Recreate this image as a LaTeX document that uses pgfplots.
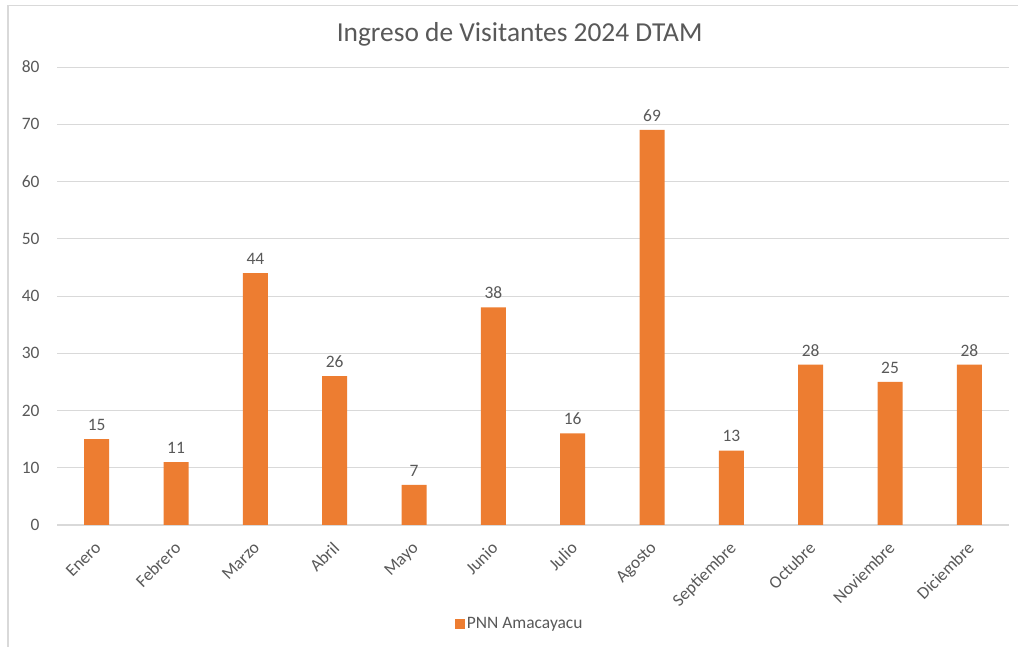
\documentclass[border=0pt]{standalone}
\usepackage{pgfplots}
\pgfplotsset{compat=1.18}
\usepackage{fontspec}
\setmainfont{Carlito}
\definecolor{barc}{HTML}{ED7D31}
\definecolor{txt}{HTML}{595959}
\definecolor{grd}{HTML}{D9D9D9}
\begin{document}
\begin{tikzpicture}[x=1bp,y=1bp]
\useasboundingbox (0,0) rectangle (1018,647);
\fill[white] (0,0) rectangle (1018,647);
\draw[grd, line width=1.2bp] (8,-10) -- (8,641.5) -- (1030,641.5);
\begin{axis}[
  at={(57bp,122bp)}, anchor=south west,
  scale only axis, width=952bp, height=458bp,
  ybar, bar width=25bp,
  xmin=-0.5, xmax=11.5, ymin=0, ymax=80,
  ytick={0,10,...,80},
  xtick=data,
  xticklabels={Enero,Febrero,Marzo,Abril,Mayo,Junio,Julio,Agosto,Septiembre,Octubre,Noviembre,Diciembre},
  x tick label style={rotate=45, anchor=north east, font=\fontsize{17.5}{20}\selectfont, text=txt, inner sep=1pt, yshift=-8bp, xshift=-12bp},
  y tick label style={font=\fontsize{17.5}{20}\selectfont, text=txt},
  /pgf/number format/assume math mode=true,
  ymajorgrids, grid style={grd, line width=0.9bp},
  axis line style={draw=none},
  axis x line*=bottom,
  x axis line style={draw=grd, line width=1bp},
  axis y line*=left,
  y axis line style={draw=none},
  major tick length=0pt,
  yticklabel style={xshift=-14bp},
  nodes near coords,
  nodes near coords style={font=\fontsize{17.5}{20}\selectfont, text=txt, yshift=5bp},
  title={Ingreso de Visitantes 2024 DTAM},
  title style={font=\fontsize{27.5}{32}\selectfont, text=txt, at={(0.486,1)}, yshift=11bp},
  legend style={at={(0.486,-0.216)}, anchor=center, draw=none, font=\fontsize{17.5}{20}\selectfont, text=txt, legend cell align=left},
  legend image code/.code={\fill[#1] (0bp,-5bp) rectangle (10bp,5bp);},
  clip=false,
]
\addplot[fill=barc, draw=none] coordinates {(0,15) (1,11) (2,44) (3,26) (4,7) (5,38) (6,16) (7,69) (8,13) (9,28) (10,25) (11,28)};
\addlegendentry{PNN Amacayacu}
\end{axis}
\end{tikzpicture}
\end{document}
